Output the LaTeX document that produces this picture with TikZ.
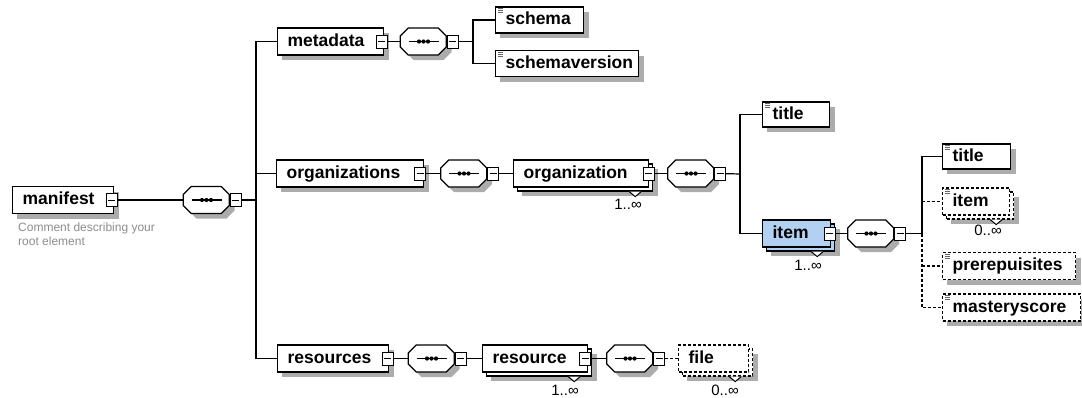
\documentclass[tikz,border=0pt]{standalone}
\usepackage{fontspec}
\setmainfont{Liberation Sans}
\definecolor{boxshade}{RGB}{172,172,172}
\definecolor{itemblue}{RGB}{178,208,242}
\definecolor{notegray}{RGB}{140,140,140}

% sequence compositor: octagon with dotted bar and collapse button
% #1 name, #2 x, #3 y
\newcommand\seqnode[3]{%
  \node[seqbox] (#1) at (#2,#3) {};
  \fill[fill=boxshade] ({#2-18},{#3+5}) -- ++(0,-5.5) -- ++(8,-8) -- ++(30,0)
      -- ++(8,8) -- ++(0,11) -- ++(-8,8) -- ++(-30,0) -- ++(-8,-8) -- cycle;
  \filldraw[fill=white, line width=1.2pt] (#1.west) -- ++(0,-5.5) -- ++(8,-8)
      -- ++(30,0) -- ++(8,8) -- ++(0,11) -- ++(-8,8) -- ++(-30,0) -- ++(-8,-8) -- cycle;
  \draw[line width=1.1pt] ([xshift=-15pt]#1.center) -- ([xshift=15pt]#1.center);
  \foreach \dx in {-4.5,0,4.5}{\fill ([xshift=\dx pt]#1.center) circle (2.1pt);}
  \node[btn] (#1b) at ({#2+29},#3) {};
}
% simple-content mark in the upper left corner of a leaf element
\newcommand\leafmark[1]{%
  \foreach \d in {2.5,4.5,6.5}{\draw[black!60, line width=0.9pt]
     ([xshift=3pt,yshift=-\d pt]#1.north west) -- ++(5,0);}}
% occurrence notch under a repeated element
\newcommand\notch[1]{%
  \filldraw[fill=white, line width=1pt] ([xshift=-24pt]#1.south east) -- ++(6,5) -- ++(6,-5);}

\begin{document}
\begin{tikzpicture}[x=1pt,y=-1pt,
  elem/.style={rectangle, draw, fill=white, line width=1.2pt, minimum height=27pt,
    inner ysep=0pt, inner xsep=10pt, align=left, anchor=west,
    font=\bfseries\fontsize{17.5}{20}\selectfont, text height=13pt, text depth=3.5pt},
  stack/.style={rectangle, draw, fill=white, line width=1.2pt, minimum height=27pt,
    inner sep=0pt, anchor=west},
  boxshadow/.style={rectangle, fill=boxshade, draw=none, minimum height=27pt, inner sep=0pt, anchor=west},
  opt/.style={dash pattern=on 3pt off 2pt},
  seqbox/.style={rectangle, minimum width=46pt, minimum height=27pt, inner sep=0pt},
  btn/.style={rectangle, draw, fill=white, line width=1pt, minimum width=11pt,
    minimum height=13pt, inner sep=0pt,
    path picture={\draw[line width=1pt] ([xshift=2pt]path picture bounding box.west)
       -- ([xshift=-2pt]path picture bounding box.east);}},
  mult/.style={font=\fontsize{15}{17}\selectfont, inner sep=0pt},
  conn/.style={line width=1.2pt},
]
\useasboundingbox (0,0) rectangle (1082,397);

% ---- shadows (flat, offset down and right) ----
\node[boxshadow, minimum width=102pt] (manifest-shade) at (17,205) {};
\node[boxshadow, minimum width=107pt] (metadata-shade) at (282,46.5) {};
\node[boxshadow, minimum width=89pt, minimum height=26pt] (schema-shade) at (500,25) {};
\node[boxshadow, minimum width=144pt, minimum height=26pt] (schemaversion-shade) at (500,68.5) {};
\node[boxshadow, minimum width=148pt] (organizations-shade) at (281,178.5) {};
\node[boxshadow, minimum width=136pt] (organization-shade) at (522,182.5) {};
\node[boxshadow, minimum width=68pt, minimum height=25pt] (title-shade) at (767,119.5) {};
\node[boxshadow, minimum width=69pt] (item-shade) at (771,242.5) {};
\node[boxshadow, minimum width=69pt, minimum height=25pt] (title2-shade) at (947,161.5) {};
\node[boxshadow, minimum width=68pt] (item2-shade) at (951,210.5) {};
\node[boxshadow, minimum width=134pt] (prereq-shade) at (947,271) {};
\node[boxshadow, minimum width=139pt] (mastery-shade) at (947,312.5) {};
\node[boxshadow, minimum width=112pt] (resources-shade) at (282,363.5) {};
\node[boxshadow, minimum width=106pt] (resource-shade) at (491,367.5) {};
\node[boxshadow, minimum width=71pt] (file-shade) at (687,367.5) {};

% ---- root ----
\node[elem, text width=81pt] (manifest) at (12,200) {manifest};
\node[btn] (manifest-btn) at (111.5,200) {};
\node[anchor=north west, align=left, inner sep=0pt, text=notegray,
  font=\fontsize{12}{14}\selectfont] (manifest-note) at (18,223)
  {Comment describing your\\root element};
\seqnode{s0}{206.5}{200}
\coordinate (j0) at (256,200);

% ---- metadata ----
\node[elem, text width=86pt] (metadata) at (277,41.5) {metadata};
\node[btn] (metadata-btn) at (381.5,41.5) {};
\seqnode{s1}{423.5}{41.5}
\coordinate (j1) at (473,41.5);
\node[elem, minimum height=26pt, text width=68pt] (schema) at (495,20) {schema};
\leafmark{schema}
\node[elem, minimum height=26pt, text width=123pt] (schemaversion) at (495,63.5) {schemaversion};
\leafmark{schemaversion}

% ---- organizations ----
\node[elem, text width=127pt] (organizations) at (276,173.5) {organizations};
\node[btn] (organizations-btn) at (420,173.5) {};
\seqnode{s2}{464}{173.5}
\node[stack, minimum width=135pt] (organization-stack) at (517,177.5) {};
\node[elem, text width=115pt] (organization) at (513,173.5) {organization};
\notch{organization-stack}
\node[btn] (organization-btn) at (648.5,173.5) {};
\node[mult] (organization-mult) at (628,204) {1..∞};
\seqnode{s3}{691}{173.5}
\coordinate (j3) at (740,174);
\node[elem, minimum height=25pt, text width=47pt] (title) at (762,114.5) {title};
\leafmark{title}
\node[stack, fill=itemblue, minimum width=68pt] (item-stack) at (766,237.5) {};
\node[elem, fill=itemblue, text width=48pt] (item) at (762,233.5) {item};
\notch{item-stack}
\node[btn] (item-btn) at (829.5,233.5) {};
\node[mult] (item-mult) at (808,265) {1..∞};
\seqnode{s4}{871}{233.5}
\coordinate (j4) at (922,233.5);

% children of item
\node[elem, minimum height=25pt, text width=48pt] (title2) at (942,156.5) {title};
\leafmark{title2}
\node[stack, opt, minimum width=67pt] (item2-stack) at (946,205.5) {};
\node[elem, opt, text width=47pt] (item2) at (942,201.5) {item};
\notch{item2-stack}
\leafmark{item2}
\node[mult] (item2-mult) at (988,230) {0..∞};
\node[elem, opt, text width=113pt] (prereq) at (942,266) {prerepuisites};
\leafmark{prereq}
\node[elem, opt, text width=118pt] (mastery) at (942,307.5) {masteryscore};
\leafmark{mastery}

% ---- resources ----
\node[elem, text width=91pt] (resources) at (277,358.5) {resources};
\node[btn] (resources-btn) at (387.5,358.5) {};
\seqnode{s5}{431.5}{358.5}
\node[stack, minimum width=105pt] (resource-stack) at (486,362.5) {};
\node[elem, text width=85pt] (resource) at (482,358.5) {resource};
\notch{resource-stack}
\node[btn] (resource-btn) at (585,358.5) {};
\node[mult] (resource-mult) at (565,390) {1..∞};
\seqnode{s6}{630}{358.5}
\node[stack, opt, minimum width=70pt] (file-stack) at (682,362.5) {};
\node[elem, opt, text width=50pt] (file) at (678,358.5) {file};
\notch{file-stack}
\node[mult] (file-mult) at (725,390) {0..∞};

% ---- connectors ----
\draw[conn] (manifest-btn) -- (s0);
\draw[conn] (s0b) -- (j0);
\draw[conn] (metadata.west) -| (j0) |- (resources.west);
\draw[conn] (j0 |- organizations.west) -- (organizations.west);

\draw[conn] (metadata-btn) -- (s1);
\draw[conn] (s1b) -- (j1);
\draw[conn] (schema.west) -| (j1) |- (schemaversion.west);

\draw[conn] (organizations-btn) -- (s2);
\draw[conn] (s2b) -- (organization.west);
\draw[conn] (organization-btn) -- (s3);
\draw[conn] (s3b) -- (j3);
\draw[conn] (title.west) -| (j3) |- (item.west);

\draw[conn] (item-btn) -- (s4);
\draw[conn] (s4b) -- (j4);
\draw[conn] (title2.west) -| (j4);
\draw[conn, opt] (j4 |- item2.west) -- (item2.west);
\draw[conn, opt] (j4) |- (mastery.west);
\draw[conn, opt] (j4 |- prereq.west) -- (prereq.west);

\draw[conn] (resources-btn) -- (s5);
\draw[conn] (s5b) -- (resource.west);
\draw[conn] (resource-btn) -- (s6);
\draw[conn, opt] (s6b) -- (file.west);
\end{tikzpicture}
\end{document}
